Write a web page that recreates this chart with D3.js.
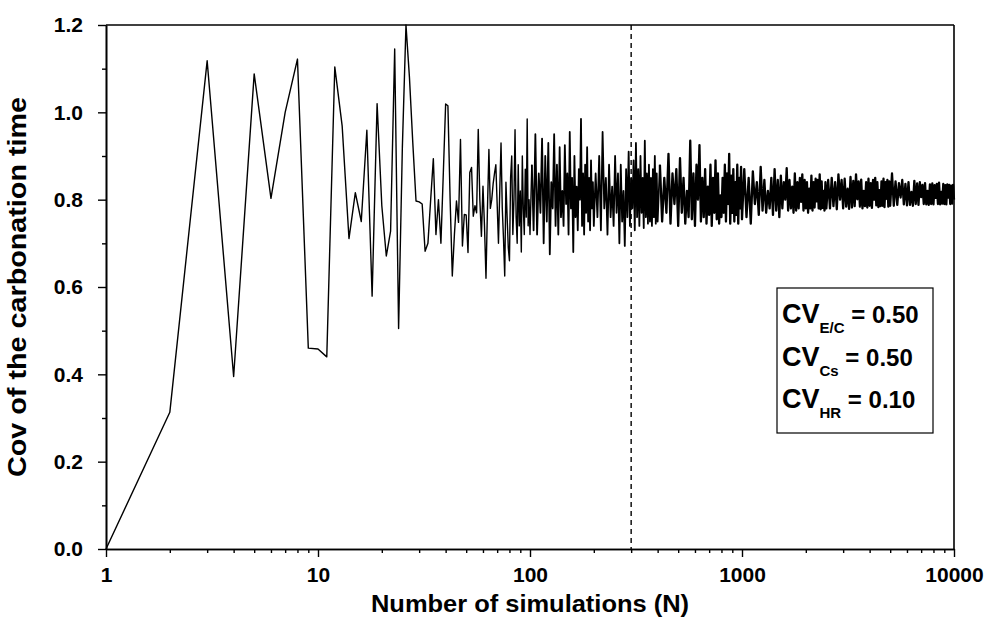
<!DOCTYPE html>
<html>
<head>
<meta charset="utf-8">
<script src="https://cdn.jsdelivr.net/npm/d3@7"></script>
<style>
  body { margin: 0; background: #fff; }
  svg text { font-family: "Liberation Sans", Arial, sans-serif; font-weight: bold; fill: #000; }
</style>
</head>
<body>
<svg id="chart"></svg>
<script>
// CoV of carbonation time vs. number of simulations
// values for N = 1..100 (step 1)
const covA = [
  0.000, 0.313, 1.118, 0.395, 1.088, 0.803, 1.000, 1.122, 0.460, 0.458,
  0.440, 1.104, 0.969, 0.711, 0.816, 0.750, 0.959, 0.579, 1.020, 0.786,
  0.671, 0.728, 1.145, 0.505, 0.920, 1.200, 1.080, 0.930, 0.797, 0.795,
  0.790, 0.682, 0.700, 0.800, 0.894, 0.720, 0.800, 0.700, 0.860, 1.019,
  1.015, 0.800, 0.625, 0.720, 0.797, 0.748, 0.938, 0.694, 0.766, 0.765,
  0.679, 0.862, 0.874, 0.762, 0.786, 0.770, 0.961, 0.800, 0.716, 0.831,
  0.740, 0.620, 0.780, 0.915, 0.780, 0.800, 0.836, 0.860, 0.880, 0.790,
  0.700, 0.820, 0.930, 0.780, 0.710, 0.625, 0.840, 0.760, 0.690, 0.660,
  0.850, 0.900, 0.720, 0.800, 0.960, 0.760, 0.700, 0.880, 0.740, 0.820,
  0.680, 0.900, 0.780, 0.720, 0.870, 0.760, 0.985, 0.740, 0.800, 0.720
];
// N = 102..200 (step 2)
const covB = [
  0.880, 0.730, 0.950, 0.720, 0.860, 0.770, 0.940, 0.700, 0.900, 0.750,
  0.930, 0.675, 0.840, 0.780, 0.950, 0.740, 0.880, 0.720, 0.920, 0.760,
  0.820, 0.740, 0.925, 0.790, 0.860, 0.720, 0.955, 0.780, 0.850, 0.680,
  0.900, 0.760, 0.830, 0.730, 0.870, 0.800, 0.985, 0.740, 0.860, 0.720,
  0.880, 0.770, 0.920, 0.750, 0.850, 0.730, 0.890, 0.780, 0.840, 0.740
];
// N = 204..400 (step 4)
const covC = [
  0.860, 0.760, 0.900, 0.730, 0.955, 0.780, 0.850, 0.720, 0.880, 0.760,
  0.830, 0.740, 0.900, 0.770, 0.860, 0.700, 0.880, 0.750, 0.820, 0.694,
  0.870, 0.760, 0.910, 0.740, 0.850, 0.780, 0.890, 0.730, 0.930, 0.760,
  0.870, 0.740, 0.900, 0.770, 0.850, 0.735, 0.935, 0.760, 0.860, 0.745,
  0.880, 0.750, 0.850, 0.740, 0.870, 0.760, 0.900, 0.745, 0.860, 0.750
];
// N = 410..1000 (step 10)
const covD = [
  0.880, 0.750, 0.850, 0.770, 0.905, 0.745, 0.860, 0.790, 0.870, 0.740,
  0.895, 0.770, 0.850, 0.745, 0.820, 0.760, 0.935, 0.755, 0.860, 0.740,
  0.880, 0.800, 0.925, 0.750, 0.850, 0.760, 0.870, 0.745, 0.830, 0.765,
  0.880, 0.740, 0.850, 0.770, 0.890, 0.755, 0.860, 0.745, 0.810, 0.760,
  0.850, 0.770, 0.880, 0.750, 0.860, 0.790, 0.905, 0.745, 0.855, 0.770,
  0.870, 0.750, 0.840, 0.765, 0.880, 0.745, 0.850, 0.780, 0.875, 0.755
];
// N = 1025..2500 (step 25)
const covE = [
  0.870, 0.760, 0.850, 0.745, 0.865, 0.790, 0.840, 0.765, 0.875, 0.775,
  0.845, 0.770, 0.820, 0.780, 0.850, 0.765, 0.870, 0.775, 0.845, 0.760,
  0.855, 0.780, 0.840, 0.800, 0.872, 0.775, 0.845, 0.780, 0.830, 0.770,
  0.860, 0.775, 0.840, 0.780, 0.850, 0.795, 0.858, 0.775, 0.845, 0.780,
  0.840, 0.770, 0.825, 0.780, 0.855, 0.775, 0.840, 0.782, 0.848, 0.796,
  0.845, 0.780, 0.858, 0.778, 0.842, 0.781, 0.820, 0.775, 0.840, 0.780
];
// N = 2550..5000 (step 50)
const covF = [
  0.845, 0.780, 0.850, 0.785, 0.840, 0.778, 0.858, 0.800, 0.845, 0.780,
  0.848, 0.784, 0.825, 0.779, 0.852, 0.782, 0.843, 0.785, 0.858, 0.801,
  0.842, 0.784, 0.846, 0.780, 0.820, 0.785, 0.840, 0.782, 0.848, 0.786,
  0.838, 0.781, 0.845, 0.800, 0.850, 0.787, 0.840, 0.783, 0.822, 0.785,
  0.842, 0.786, 0.848, 0.783, 0.840, 0.802, 0.845, 0.784, 0.842, 0.786
];
// N = 5100..10000 (step 100)
const covG = [
  0.860, 0.786, 0.842, 0.788, 0.838, 0.805, 0.845, 0.789, 0.836, 0.787,
  0.840, 0.788, 0.818, 0.786, 0.843, 0.790, 0.837, 0.788, 0.840, 0.806,
  0.834, 0.790, 0.838, 0.789, 0.820, 0.788, 0.835, 0.790, 0.837, 0.789,
  0.833, 0.804, 0.836, 0.790, 0.839, 0.789, 0.818, 0.791, 0.836, 0.790,
  0.833, 0.789, 0.835, 0.805, 0.834, 0.790, 0.832, 0.791, 0.834, 0.800
];

const segStarts = [1, 102, 204, 410, 1025, 2550, 5100];
const segSteps = [1, 2, 4, 10, 25, 50, 100];
const segValues = [covA, covB, covC, covD, covE, covF, covG];

const xTicks = [1, 10, 100, 1000, 10000];
const yTicks = [0, 0.2, 0.4, 0.6, 0.8, 1.0, 1.2];
const cutoffN = 300;

const legendRows = [
  { sub: "E/C", val: "0.50" },
  { sub: "Cs", val: "0.50" },
  { sub: "HR", val: "0.10" }
];

const margin = { top: 25, right: 36, bottom: 76, left: 106 },
      width = 990 - margin.left - margin.right,
      height = 625 - margin.top - margin.bottom;

const svg = d3.select("#chart")
  .attr("width", 990)
  .attr("height", 625)
.append("g")
  .attr("transform", `translate(${margin.left},${margin.top})`);

// build points
const data = [];
segValues.forEach((vals, s) => {
  vals.forEach((v, i) => data.push({ n: segStarts[s] + i * segSteps[s], v: v }));
});

// Scales
const x = d3.scaleLog().domain([1, 10000]).range([0, width]);
const y = d3.scaleLinear().domain([0, 1.2]).range([height, 0]);

// minor ticks
const xMinor = [];
[1, 10, 100, 1000].forEach(d => { for (let k = 2; k <= 9; k++) xMinor.push(d * k); });
const yMinor = [0.1, 0.3, 0.5, 0.7, 0.9, 1.1];

// Axes
const styleAxis = g => {
  g.select(".domain").attr("stroke", "#000").attr("stroke-width", 1.6);
  g.selectAll(".tick line").attr("stroke", "#000").attr("stroke-width", 1.4);
};

svg.append("g")
  .attr("transform", `translate(0,${height})`)
  .call(d3.axisBottom(x).tickValues(xMinor).tickSize(4).tickFormat("").tickSizeOuter(0))
  .call(styleAxis);

svg.append("g")
  .attr("transform", `translate(0,${height})`)
  .call(d3.axisBottom(x).tickValues(xTicks).tickSize(8).tickSizeOuter(0)
    .tickFormat(d3.format("d")).tickPadding(10))
  .call(styleAxis)
  .selectAll("text")
  .style("font-size", "21px")
  .attr("fill", "#000");

svg.append("g")
  .call(d3.axisLeft(y).tickValues(yMinor).tickSize(4).tickFormat("").tickSizeOuter(0))
  .call(styleAxis);

svg.append("g")
  .call(d3.axisLeft(y).tickValues(yTicks).tickSize(8).tickSizeOuter(0)
    .tickFormat(d3.format(".1f")).tickPadding(15))
  .call(styleAxis)
  .selectAll("text")
  .style("font-size", "21px")
  .attr("fill", "#000");

// frame top / right
svg.append("line")
  .attr("x1", 0).attr("x2", width).attr("y1", 0).attr("y2", 0)
  .attr("stroke", "#000").attr("stroke-width", 1.6);
svg.append("line")
  .attr("x1", width).attr("x2", width).attr("y1", 0).attr("y2", height)
  .attr("stroke", "#000").attr("stroke-width", 1.6);

// cutoff line
svg.append("line")
  .attr("x1", x(cutoffN)).attr("x2", x(cutoffN))
  .attr("y1", 0).attr("y2", height)
  .attr("stroke", "#000")
  .attr("stroke-width", 1.4)
  .attr("stroke-dasharray", "5,4");

// Series: sparse start thin, dense tail drawn heavier
const line = d3.line().x(d => x(d.n)).y(d => y(d.v));
const parts = [
  { from: 1, to: 102, w: 1.4 },
  { from: 102, to: 410, w: 1.8 },
  { from: 410, to: 10000, w: 2.3 }
];
parts.forEach(p => {
  svg.append("path")
    .datum(data.filter(d => d.n >= p.from && d.n <= p.to))
    .attr("fill", "none")
    .attr("stroke", "#000")
    .attr("stroke-width", p.w)
    .attr("stroke-linejoin", "round")
    .attr("d", line);
});

// Axis titles
svg.append("text")
  .attr("x", width / 2)
  .attr("y", height + 63)
  .attr("text-anchor", "middle")
  .attr("textLength", 318)
  .attr("lengthAdjust", "spacingAndGlyphs")
  .style("font-size", "23px")
  .text("Number of simulations (N)");

svg.append("text")
  .attr("transform", `translate(${-80},${height / 2}) rotate(-90)`)
  .attr("text-anchor", "middle")
  .attr("textLength", 380)
  .attr("lengthAdjust", "spacingAndGlyphs")
  .style("font-size", "25px")
  .text("Cov of the carbonation time");

// Legend box
const legend = svg.append("g")
  .attr("transform", `translate(${777 - margin.left},${288 - margin.top})`);

legend.append("rect")
  .attr("width", 156)
  .attr("height", 145)
  .attr("fill", "#fff")
  .attr("stroke", "#000")
  .attr("stroke-width", 1.2);

legendRows.forEach((r, i) => {
  const t = legend.append("text")
    .attr("x", 5)
    .attr("y", 35 + i * 42.5)
    .style("font-size", "24px");
  t.append("tspan").style("font-size", "27px").text("CV");
  t.append("tspan").attr("dy", 10).style("font-size", "15px").text(r.sub);
  t.append("tspan").attr("dy", -10).text(" = " + r.val);
});
</script>
</body>
</html>
